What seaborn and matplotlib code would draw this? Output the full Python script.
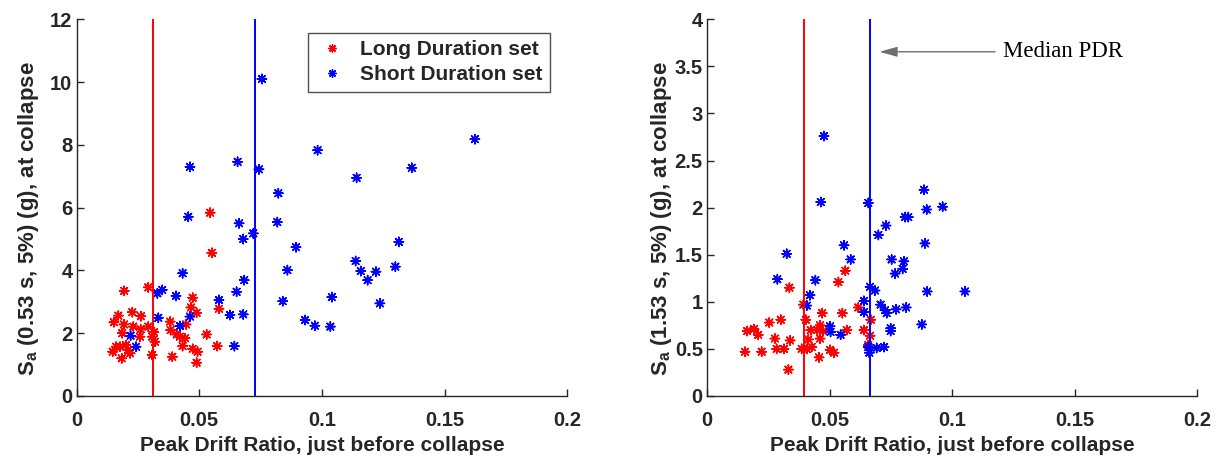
import pandas as pd
import seaborn as sns
import matplotlib.pyplot as plt
from matplotlib.lines import Line2D
from matplotlib.ticker import FormatStrFormatter

# Peak drift ratio vs Sa at collapse
# left panel: Sa(0.53 s, 5%)
long_pdr_a = [0.0194, 0.0292, 0.0544, 0.0551, 0.0473, 0.0466, 0.0489, 0.0580, 0.0170, 0.0227,
              0.0262, 0.0152, 0.0193, 0.0231, 0.0261, 0.0292, 0.0186, 0.0258, 0.0315, 0.0308,
              0.0319, 0.0381, 0.0383, 0.0408, 0.0446, 0.0421, 0.0442, 0.0432, 0.0530, 0.0573,
              0.0473, 0.0493, 0.0489, 0.0390, 0.0308, 0.0147, 0.0177, 0.0201, 0.0218, 0.0184,
              0.0161, 0.0209]
long_sa_a = [3.35, 3.46, 5.84, 4.56, 3.13, 2.82, 2.65, 2.78, 2.56, 2.67,
             2.54, 2.35, 2.28, 2.21, 2.13, 2.21, 2.00, 1.89, 2.03, 1.89,
             1.73, 2.37, 2.10, 1.96, 2.28, 1.89, 1.84, 1.59, 1.96, 1.59,
             1.50, 1.41, 1.06, 1.25, 1.31, 1.41, 1.57, 1.62, 1.36, 1.20,
             1.57, 1.46]
short_pdr_a = [0.0462, 0.0656, 0.0743, 0.0455, 0.0662, 0.0679, 0.0720, 0.0432, 0.0683, 0.0652,
               0.0329, 0.0349, 0.0405, 0.0580, 0.0625, 0.0679, 0.0333, 0.0462, 0.0421, 0.0220,
               0.0242, 0.0643, 0.0755, 0.1623, 0.0982, 0.1141, 0.1366, 0.0822, 0.0818, 0.0894,
               0.0859, 0.1313, 0.1137, 0.1158, 0.1220, 0.1186, 0.1299, 0.0840, 0.1040, 0.1236,
               0.0931, 0.0971, 0.1034]
short_sa_a = [7.30, 7.46, 7.22, 5.71, 5.50, 5.00, 5.18, 3.91, 3.69, 3.32,
              3.27, 3.38, 3.19, 3.06, 2.58, 2.60, 2.49, 2.53, 2.23, 1.92,
              1.57, 1.59, 10.10, 8.18, 7.83, 6.95, 7.27, 6.46, 5.54, 4.74,
              4.01, 4.91, 4.30, 3.98, 3.96, 3.69, 4.12, 3.02, 3.15, 2.95,
              2.42, 2.24, 2.21]

# right panel: Sa(1.53 s, 5%)
long_pdr_b = [0.0336, 0.0536, 0.0564, 0.0393, 0.0617, 0.0470, 0.0552, 0.0254, 0.0301, 0.0403,
              0.0668, 0.0164, 0.0192, 0.0209, 0.0423, 0.0461, 0.0450, 0.0474, 0.0570, 0.0640,
              0.0277, 0.0339, 0.0413, 0.0461, 0.0665, 0.0155, 0.0223, 0.0284, 0.0314, 0.0386,
              0.0407, 0.0427, 0.0502, 0.0518, 0.0457, 0.0332, 0.0658]
long_sa_b = [1.15, 1.21, 1.33, 0.97, 0.94, 0.88, 0.88, 0.78, 0.81, 0.81,
             0.81, 0.69, 0.71, 0.65, 0.70, 0.75, 0.70, 0.69, 0.70, 0.70,
             0.61, 0.59, 0.60, 0.61, 0.64, 0.47, 0.47, 0.50, 0.50, 0.50,
             0.50, 0.52, 0.49, 0.46, 0.41, 0.28, 0.54]
short_pdr_b = [0.0477, 0.0464, 0.0325, 0.0287, 0.0442, 0.0420, 0.0407, 0.0502, 0.0504, 0.0545,
               0.0665, 0.0685, 0.0640, 0.0640, 0.0708, 0.0726, 0.0733, 0.0767, 0.0771, 0.0749,
               0.0749, 0.0658, 0.0692, 0.0722, 0.0662, 0.0885, 0.0896, 0.0961, 0.0658, 0.0808,
               0.0821, 0.0730, 0.0699, 0.0889, 0.0559, 0.0586, 0.0753, 0.0803, 0.0798, 0.0898,
               0.1052, 0.0812, 0.0876]
short_sa_b = [2.76, 2.06, 1.51, 1.24, 1.23, 1.07, 0.96, 0.74, 0.68, 0.65,
              1.16, 1.12, 1.01, 0.89, 0.97, 0.91, 0.88, 1.30, 0.92, 0.72,
              0.69, 0.52, 0.51, 0.52, 0.46, 2.19, 1.98, 2.01, 2.05, 1.90,
              1.90, 1.81, 1.71, 1.62, 1.60, 1.45, 1.45, 1.43, 1.35, 1.11,
              1.11, 0.94, 0.76]

# median PDR of each set (vertical lines)
median_long = [0.0310, 0.0397]
median_short = [0.0725, 0.0663]

sets = ['Long Duration set', 'Short Duration set']
colors = {'Long Duration set': 'red', 'Short Duration set': 'blue'}
ylabels = ['S$_{\\mathregular{a}}$ (0.53 s, 5%) (g), at collapse',
           'S$_{\\mathregular{a}}$ (1.53 s, 5%) (g), at collapse']
ylims = [12, 4]
ysteps = [2, 0.5]
ylabel_x = [-0.072, -0.068]


def make_df(lp, ls, sp, ss):
    return pd.DataFrame({
        'pdr': lp + sp,
        'sa': ls + ss,
        'set': [sets[0]] * len(lp) + [sets[1]] * len(sp),
    })


panels = [make_df(long_pdr_a, long_sa_a, short_pdr_a, short_sa_a),
          make_df(long_pdr_b, long_sa_b, short_pdr_b, short_sa_b)]

sns.set_theme(style='white')
plt.rcParams['font.family'] = ['Liberation Sans', 'DejaVu Sans']
plt.rcParams['font.weight'] = 'bold'
plt.rcParams['axes.labelweight'] = 'bold'

fig = plt.figure(figsize=(12.16, 4.57), dpi=100)
ax_pos = [[0.063, 0.1335, 0.4036, 0.8243], [0.5814, 0.1335, 0.4033, 0.8243]]
star = (8, 2, 0)
dark = '#262626'

for i, df in enumerate(panels):
    ax = fig.add_axes(ax_pos[i])
    sns.scatterplot(data=df, x='pdr', y='sa', hue='set', palette=colors,
                    marker=star, s=44, linewidth=1.1, legend=False, ax=ax)
    ax.axvline(median_long[i], color='red', lw=1.4)
    ax.axvline(median_short[i], color='blue', lw=1.4)

    ax.set_xlim(0, 0.2)
    ax.set_ylim(0, ylims[i])
    ax.set_xticks([0, 0.05, 0.1, 0.15, 0.2])
    ax.set_yticks([k * ysteps[i] for k in range(int(ylims[i] / ysteps[i]) + 1)])
    ax.xaxis.set_major_formatter(FormatStrFormatter('%g'))
    ax.yaxis.set_major_formatter(FormatStrFormatter('%g'))
    ax.tick_params(direction='in', length=5, width=1, color=dark, labelcolor=dark,
                   labelsize=14.5, bottom=True, left=True)
    ax.tick_params(axis='x', pad=11)
    ax.tick_params(axis='y', pad=3)
    for lab in ax.get_xticklabels() + ax.get_yticklabels():
        lab.set_fontweight('bold')
    sns.despine(ax=ax)
    for sp in ['left', 'bottom']:
        ax.spines[sp].set_color(dark)
        ax.spines[sp].set_linewidth(1.0)

    ax.set_xlabel('Peak Drift Ratio, just before collapse', fontsize=15,
                  color=dark, labelpad=4)
    ax.set_ylabel(ylabels[i], fontsize=16, color=dark)
    ax.yaxis.set_label_coords(ylabel_x[i], 0.47)

    if i == 0:
        handles = [Line2D([], [], ls='none', marker=star, color=colors[k],
                          markersize=6, mew=1.0) for k in sets]
        leg = ax.legend(handles, sets, loc='upper right', bbox_to_anchor=(0.965, 0.964),
                        borderaxespad=0, fancybox=False, edgecolor=dark,
                        handlelength=1.6, handletextpad=0.55, borderpad=0.35,
                        labelspacing=0.3, prop={'weight': 'bold', 'size': 15})
        leg.get_frame().set_linewidth(1.0)
    else:
        ax.annotate('', xy=(0.0703, 3.655), xytext=(0.1175, 3.655),
                    arrowprops=dict(arrowstyle='-|>,head_length=0.9,head_width=0.25',
                                    color='#6e6e6e', lw=1.0, shrinkA=0, shrinkB=0))
        ax.text(0.1207, 3.655, 'Median PDR', family='Liberation Serif', fontsize=16.5,
                fontweight='normal', color='black', va='center', ha='left')

fig.savefig('out.png', dpi=100)
